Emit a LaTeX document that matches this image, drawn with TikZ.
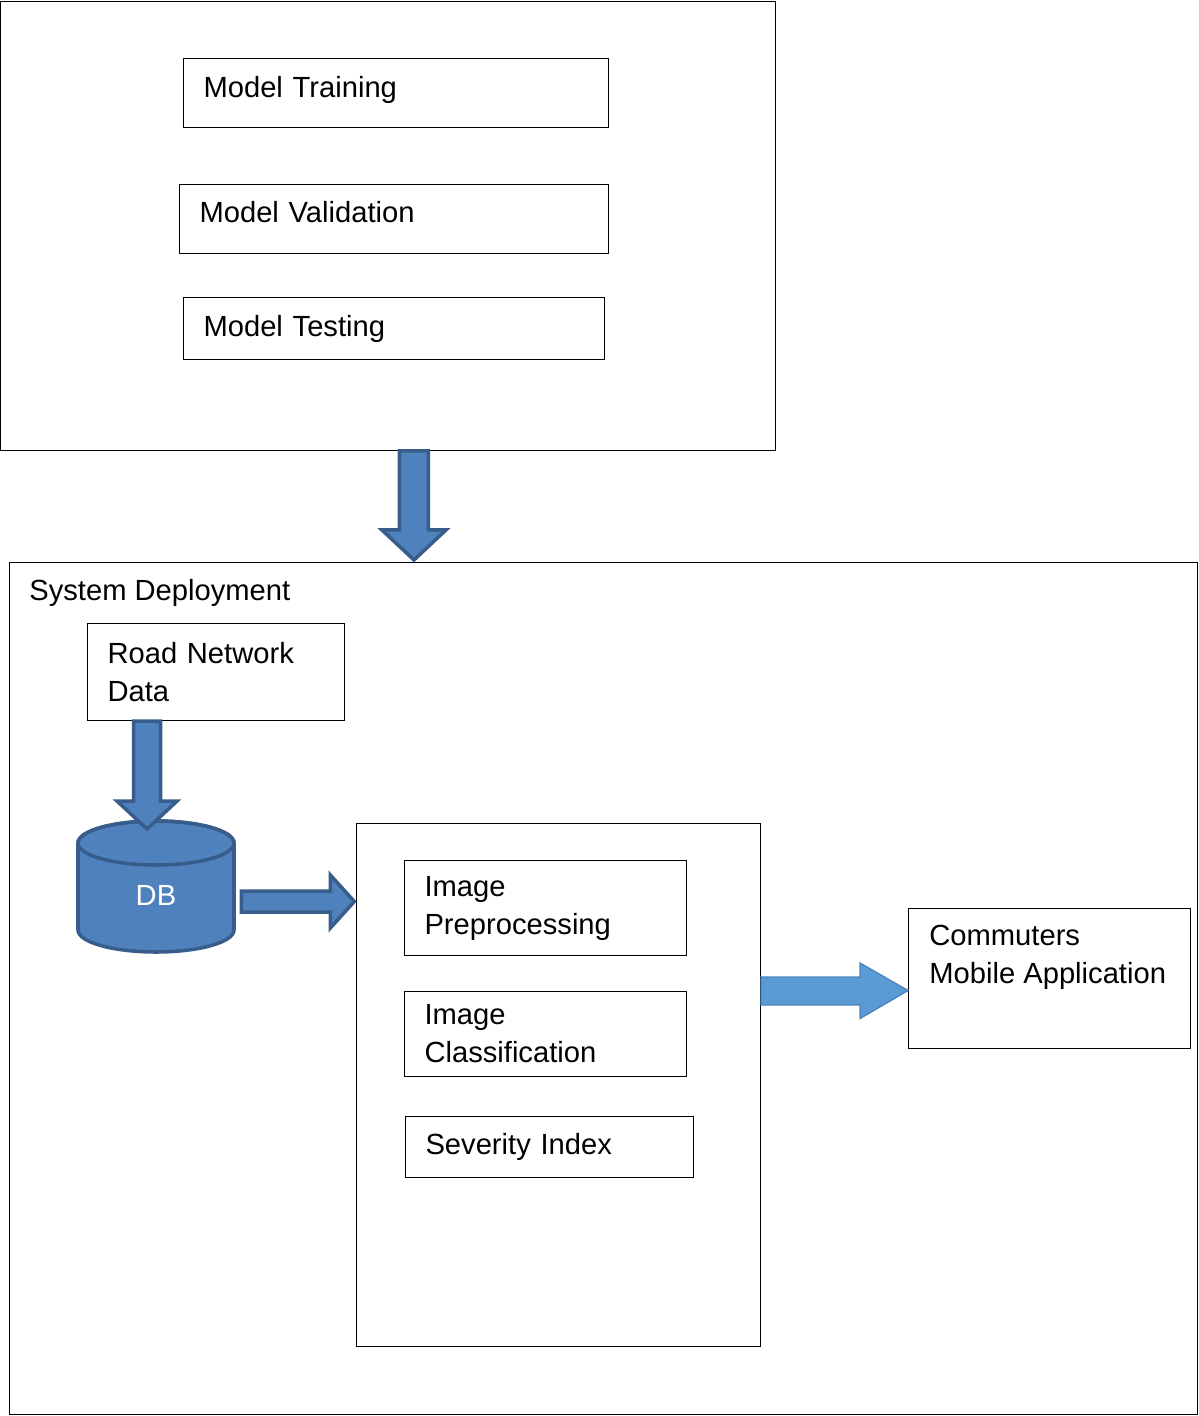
\documentclass[tikz,border=0pt]{standalone}
\usepackage{fontspec}
\setmainfont{Liberation Sans}

\definecolor{arrowblue}{HTML}{4F81BD}
\definecolor{arrowedge}{HTML}{385D8A}
\definecolor{lightblue}{HTML}{5B9BD5}
\definecolor{lightedge}{HTML}{4A86BE}

\tikzset{
	frame/.style={draw, line width=0.6pt, anchor=north west, inner sep=0pt},
	box/.style={draw, line width=0.6pt, anchor=north west, inner xsep=0.4cm, inner ysep=0pt,
		align=left, font=\fontsize{16.6}{21.6}\selectfont},
	txt/.style={anchor=north west, inner sep=0pt, align=left, font=\fontsize{16.6}{21.6}\selectfont},
	fatarrow/.style={fill=arrowblue, draw=arrowedge, line width=2pt, line join=miter},
	lightarrow/.style={fill=lightblue, draw=lightedge, line width=0.8pt, line join=miter},
}

\begin{document}
\begin{tikzpicture}[x=0.02cm, y=-0.02cm]
		\useasboundingbox (0,0) rectangle (1199,1416);
		% model part
		\node[frame, minimum width=15.5cm, minimum height=8.98cm] (model) at (0,1) {};
		\node[box, minimum width=8.5cm, text width=7.7cm, minimum height=1.38cm, text depth=7pt] (training) at (183,58) {Model Training};
		\node[box, minimum width=8.58cm, text width=7.78cm, minimum height=1.38cm, text depth=8pt] (validation) at (179,184) {Model Validation};
		\node[box, minimum width=8.42cm, text width=7.62cm, minimum height=1.24cm] (testing) at (183,297) {Model Testing};

		% deployment part
		\node[frame, minimum width=23.76cm, minimum height=17.04cm] (deploy) at (9,562) {};
		\node[txt] (deploylabel) at (29,579) {System Deployment};
		\node[box, minimum width=5.14cm, text width=4.34cm, minimum height=1.94cm] (road) at (87,623) {Road Network\\Data};

		% database
		\draw[fatarrow] (78,843) -- (78,930) arc (180:0:78 and 22) -- (234,843) arc (0:-180:78 and 22) -- cycle;
		\draw[arrowedge, line width=2pt] (156,843) ellipse (78 and 22);
		\node[white, inner sep=0pt, minimum width=3.12cm, font=\fontsize{16.6}{21.6}\selectfont] (db) at (156,895) {DB};

		% processing
		\node[frame, minimum width=8.08cm, minimum height=10.46cm] (process) at (356,823) {};
		\node[box, minimum width=5.64cm, text width=4.84cm, minimum height=1.9cm] (prep) at (404,860) {Image\\Preprocessing};
		\node[box, minimum width=5.64cm, text width=4.84cm, minimum height=1.7cm] (classif) at (404,991) {Image\\Classification};
		\node[box, minimum width=5.76cm, text width=4.96cm, minimum height=1.22cm] (severity) at (405,1116) {Severity Index};

		% mobile app
		\node[frame, minimum width=5.64cm, minimum height=2.8cm] (app) at (908,908) {};
		\node[txt] (applabel) at (929,925) {Commuters\\Mobile Application};

		% arrows
		\draw[fatarrow] ([xshift=0.52cm]model.south) ++(-14.5,0) -- ++(0,79) -- ++(-17.5,0) -- ++(32,30)
			-- ++(32,-30) -- ++(-17.5,0) -- ++(0,-79) -- cycle;
		\draw[fatarrow] ([xshift=-1.38cm]road.south) ++(-13.5,0) -- ++(0,80) -- ++(-16.5,0) -- ++(30,28)
			-- ++(30,-28) -- ++(-16.5,0) -- ++(0,-80) -- cycle;
		\draw[fatarrow] ([xshift=0.14cm, yshift=-0.13cm]db.east) ++(0,-10.5) -- ++(89,0) -- ++(0,-16) -- ++(24,26.5)
			-- ++(-24,26.5) -- ++(0,-16) -- ++(-89,0) -- cycle;
		\draw[lightarrow] ([yshift=-0.24cm]app.west) -- ++(-48,-27.5) -- ++(0,14) -- ++(-99,0) -- ++(0,28)
			-- ++(99,0) -- ++(0,13.5) -- cycle;
	\end{tikzpicture}
\end{document}
